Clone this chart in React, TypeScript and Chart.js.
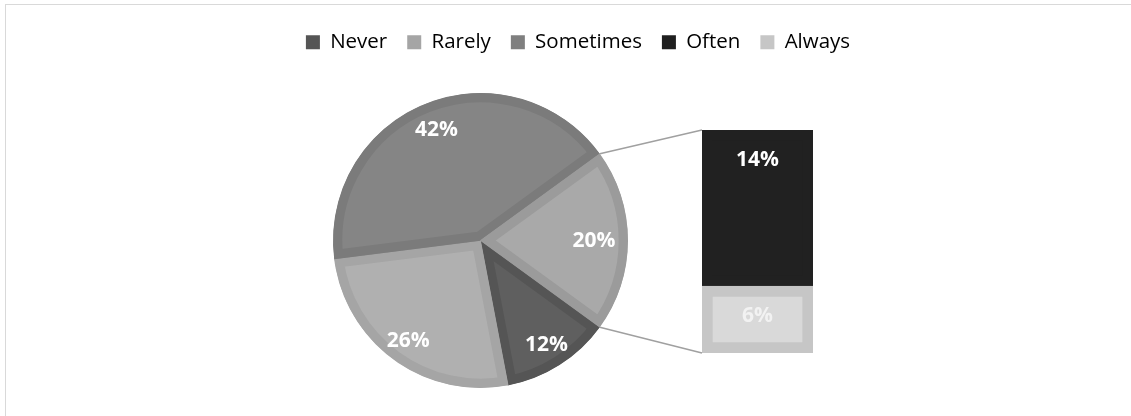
import React, { useEffect, useRef } from 'react';
import { Chart, registerables } from 'chart.js';

Chart.register(...registerables);

// ---- data ----
const PIE_CATEGORIES = ['Never', 'Rarely', 'Sometimes'];
const PIE_VALUES = [12, 26, 42];
const BAR_CATEGORIES = ['Often', 'Always'];
const BAR_VALUES = [14, 6];
const OTHER_LABEL = 'Other';
const OTHER_VALUE = BAR_VALUES.reduce((a, b) => a + b, 0);
const TOTAL = PIE_VALUES.reduce((a, b) => a + b, 0) + OTHER_VALUE;

// ---- styles ----
const PIE_FILL = ['#5f5f5f', '#b0b0b0', '#858585', '#a9a9a9'];
const PIE_BORDER = ['#555555', '#a5a5a5', '#7b7b7b', '#9b9b9b'];
const BAR_FILL = ['#212121', '#d9d9d9'];
const BAR_BORDER = ['#212121', '#c6c6c6'];
const BAR_LABEL_COLOR = ['#ffffff', '#f2f2f2'];
const LEGEND_COLORS = ['#555555', '#a5a5a5', '#7f7f7f', '#1f1f1f', '#c6c6c6'];
const PIE_LABEL_RADIUS = [0.835, 0.835, 0.81, 0.77];
const FONT = '"Open Sans", sans-serif';

const pct = (v: number) => Math.round((v / TOTAL) * 100) + '%';

export default function App() {
  const pieRef = useRef<HTMLCanvasElement>(null);
  const barRef = useRef<HTMLCanvasElement>(null);

  useEffect(() => {
    const pieLabels = {
      id: 'pieLabels',
      afterDatasetsDraw(chart: any) {
        const ctx = chart.ctx;
        const meta = chart.getDatasetMeta(0);
        const values = chart.data.datasets[0].data as number[];
        ctx.save();
        ctx.font = `bold 21px ${FONT}`;
        ctx.fillStyle = '#ffffff';
        ctx.textAlign = 'center';
        ctx.textBaseline = 'middle';
        meta.data.forEach((arc: any, i: number) => {
          const p = arc.getProps(['x', 'y', 'startAngle', 'endAngle', 'outerRadius'], true);
          const a = (p.startAngle + p.endAngle) / 2;
          const r = p.outerRadius * PIE_LABEL_RADIUS[i];
          ctx.fillText(pct(values[i]), p.x + r * Math.cos(a), p.y + r * Math.sin(a) + 1);
        });
        ctx.restore();
      },
    };

    const pie = new Chart(pieRef.current!, {
      type: 'pie',
      data: {
        labels: [...PIE_CATEGORIES, OTHER_LABEL],
        datasets: [
          {
            data: [...PIE_VALUES, OTHER_VALUE],
            backgroundColor: PIE_FILL,
            borderColor: PIE_BORDER,
            borderWidth: 9,
            borderAlign: 'inner',
            borderJoinStyle: 'miter',
            hoverOffset: 0,
          } as any,
        ],
      },
      options: {
        animation: false,
        responsive: false,
        events: [],
        rotation: 90 + (OTHER_VALUE / TOTAL) * 180,
        layout: { padding: { left: 333, top: 93, right: 503, bottom: 28 } },
        plugins: { legend: { display: false }, tooltip: { enabled: false } },
      } as any,
      plugins: [pieLabels],
    });

    const connectors = {
      id: 'connectors',
      afterDatasetsDraw(chart: any) {
        const arc = pie.getDatasetMeta(0).data[PIE_VALUES.length] as any;
        if (!arc) return;
        const p = arc.getProps(['x', 'y', 'startAngle', 'endAngle', 'outerRadius'], true);
        const ox = 5, oy = 4;
        const top = chart.getDatasetMeta(1).data[0].getProps(['x', 'y', 'width', 'base'], true);
        const bot = chart.getDatasetMeta(0).data[0].getProps(['x', 'y', 'width', 'base'], true);
        const left = top.x - top.width / 2;
        const ctx = chart.ctx;
        ctx.save();
        ctx.strokeStyle = '#a0a0a0';
        ctx.lineWidth = 1.5;
        ctx.beginPath();
        ctx.moveTo(p.x + p.outerRadius * Math.cos(p.startAngle) - ox, p.y + p.outerRadius * Math.sin(p.startAngle) - oy);
        ctx.lineTo(left, top.y);
        ctx.moveTo(p.x + p.outerRadius * Math.cos(p.endAngle) - ox, p.y + p.outerRadius * Math.sin(p.endAngle) - oy);
        ctx.lineTo(left, bot.base);
        ctx.stroke();
        ctx.restore();
      },
    };

    const barLabels = {
      id: 'barLabels',
      afterDatasetsDraw(chart: any) {
        const ctx = chart.ctx;
        ctx.save();
        ctx.font = `bold 21px ${FONT}`;
        ctx.textAlign = 'center';
        ctx.textBaseline = 'middle';
        chart.data.datasets.forEach((ds: any, di: number) => {
          const el = chart.getDatasetMeta(di).data[0];
          const p = el.getProps(['x', 'y'], true);
          ctx.fillStyle = ds.labelColor;
          ctx.fillText(pct(ds.data[0]), p.x, p.y + 30);
        });
        ctx.restore();
      },
    };

    const hidden = {
      display: true,
      grid: { display: false },
      border: { display: false },
      ticks: { display: false },
    };

    const legendItems = [...PIE_CATEGORIES, ...BAR_CATEGORIES].map((text, i) => ({
      text,
      fillStyle: LEGEND_COLORS[i],
      strokeStyle: LEGEND_COLORS[i],
      lineWidth: 0,
      hidden: false,
      index: i,
      datasetIndex: 0,
    }));

    // stacked: bottom segment first (Always), then Often on top
    const order = [1, 0];
    const bar = new Chart(barRef.current!, {
      type: 'bar',
      data: {
        labels: [OTHER_LABEL],
        datasets: order.map((k) => ({
          label: BAR_CATEGORIES[k],
          data: [BAR_VALUES[k]],
          backgroundColor: BAR_FILL[k],
          borderColor: BAR_BORDER[k],
          borderWidth: 11,
          borderSkipped: false,
          categoryPercentage: 1,
          barPercentage: 1,
          labelColor: BAR_LABEL_COLOR[k],
        })) as any,
      },
      options: {
        animation: false,
        responsive: false,
        events: [],
        layout: { padding: { top: 8, left: 0, right: 0, bottom: 81 } },
        scales: {
          x: {
            ...hidden,
            type: 'category',
            position: 'top',
            stacked: true,
            afterFit: (s: any) => {
              s.height = 67.5;
            },
          },
          y: {
            ...hidden,
            type: 'linear',
            position: 'left',
            stacked: true,
            min: 0,
            max: OTHER_VALUE,
            afterFit: (s: any) => {
              s.width = 697;
            },
          },
          y2: {
            ...hidden,
            type: 'linear',
            position: 'right',
            afterFit: (s: any) => {
              s.width = 338;
            },
          },
        },
        plugins: {
          tooltip: { enabled: false },
          legend: {
            position: 'top',
            onClick: () => {},
            labels: {
              boxWidth: 14,
              boxHeight: 14,
              padding: 20,
              color: '#595959',
              font: { family: FONT, size: 20.5 },
              generateLabels: () => legendItems,
            },
          },
        },
      } as any,
      plugins: [connectors, barLabels],
    });

    return () => {
      bar.destroy();
      pie.destroy();
    };
  }, []);

  return (
    <div
      style={{
        position: 'absolute',
        left: 0,
        top: 0,
        width: 1131,
        height: 416,
        overflow: 'hidden',
        background: '#ffffff',
      }}
    >
      <div
        style={{
          position: 'absolute',
          left: 5,
          top: 4,
          width: 1146,
          height: 430,
          border: '1px solid #d9d9d9',
          boxSizing: 'border-box',
        }}
      />
      <canvas
        ref={pieRef}
        width={1131}
        height={416}
        style={{ position: 'absolute', left: 0, top: 0, width: 1131, height: 416 }}
      />
      <canvas
        ref={barRef}
        width={1146}
        height={430}
        style={{ position: 'absolute', left: 5, top: 4, width: 1146, height: 430 }}
      />
    </div>
  );
}
